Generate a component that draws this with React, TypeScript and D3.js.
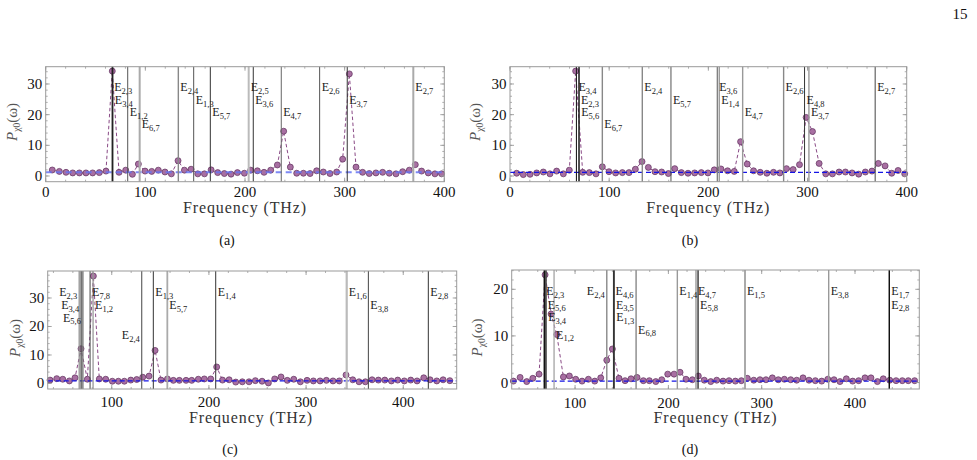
import React from "react";
import * as d3 from "d3";

// ---------- spectra: frequency (THz) and power per panel ----------
const freqA = [6.6, 13.7, 20.4, 27.1, 33.8, 40.4, 47.1, 53.8, 60.5, 66.8, 73.6, 80.3, 87.0, 93.0, 99.7, 106.4, 113.0, 119.7, 126.1, 132.8, 139.2, 145.9, 152.6, 159.3, 166.0, 172.6, 179.3, 186.0, 192.4, 199.4, 205.7, 212.4, 219.1, 225.8, 232.5, 238.8, 245.5, 251.9, 258.6, 265.3, 271.9, 278.6, 285.3, 292.0, 298.0, 304.7, 311.4, 318.0, 324.7, 331.4, 338.1, 344.8, 351.5, 358.2, 364.9, 370.9, 377.2, 383.9, 390.6, 397.3];
const powA = [1.96, 1.5, 1.2, 1.0, 1.0, 1.0, 1.0, 1.1, 1.6, 34.2, 1.2, 1.9, 0.55, 3.9, 1.6, 1.5, 1.9, 1.3, 0.7, 5.0, 1.9, 2.2, 0.7, 0.7, 2.0, 1.1, 0.8, 0.6, 1.1, 0.9, 1.9, 1.7, 1.2, 1.9, 3.6, 14.6, 2.9, 0.9, 0.9, 0.8, 1.7, 1.3, 0.8, 1.3, 5.5, 33.3, 2.9, 1.2, 0.8, 1.0, 1.2, 0.9, 0.7, 1.4, 1.9, 3.7, 1.6, 1.0, 0.7, 0.7];

const freqB = [6.7, 13.4, 20.2, 26.9, 33.6, 40.3, 47.0, 53.8, 59.8, 66.2, 73.3, 80.0, 86.7, 93.1, 99.8, 106.5, 113.3, 120.0, 126.4, 133.1, 139.5, 146.2, 152.9, 159.7, 166.1, 172.8, 179.5, 186.2, 192.9, 199.6, 206.0, 212.7, 219.4, 226.1, 232.5, 239.2, 245.6, 252.3, 259.0, 265.7, 272.1, 278.8, 285.5, 291.9, 298.6, 305.0, 311.7, 318.4, 325.1, 331.8, 338.2, 344.9, 351.6, 358.3, 365.0, 371.4, 378.2, 384.9, 391.3, 398.0];
const powB = [0.9, 0.45, 0.55, 1.0, 1.3, 0.7, 1.6, 0.7, 1.9, 34.2, 1.2, 1.1, 0.7, 3.0, 1.4, 1.0, 1.1, 1.1, 2.2, 4.7, 2.8, 1.4, 1.3, 0.8, 2.4, 1.1, 0.9, 1.0, 1.1, 1.0, 2.0, 2.3, 1.7, 1.5, 11.2, 3.9, 1.7, 1.2, 0.9, 1.2, 1.0, 2.4, 2.1, 3.7, 19.1, 14.5, 4.1, 0.7, 0.7, 1.3, 1.3, 1.0, 0.6, 1.3, 1.6, 4.1, 3.3, 0.9, 1.8, 0.7];

const freqC = [36.5, 43.4, 49.6, 56.4, 62.2, 68.4, 74.9, 81.1, 87.2, 93.8, 100.6, 106.8, 113.0, 119.6, 125.7, 131.9, 138.4, 144.6, 150.7, 157.3, 163.4, 169.6, 176.5, 182.3, 189.1, 195.3, 201.9, 208.0, 214.0, 220.8, 227.6, 234.4, 241.3, 247.8, 254.7, 261.2, 267.7, 274.2, 280.7, 287.3, 294.1, 301.0, 307.5, 314.4, 320.9, 327.7, 334.2, 341.1, 348.0, 354.5, 361.0, 367.9, 374.4, 381.0, 387.8, 394.3, 401.1, 407.7, 414.2, 421.1, 427.6, 434.5, 441.0, 447.9];
const powC = [1.2, 1.7, 1.5, 0.9, 2.0, 12.2, 1.5, 37.7, 1.6, 1.5, 0.8, 0.8, 0.8, 1.2, 1.4, 2.2, 2.6, 11.6, 1.2, 1.6, 1.1, 1.1, 1.1, 1.1, 1.5, 1.6, 1.6, 5.8, 1.2, 1.3, 0.5, 0.6, 0.6, 1.0, 0.8, 0.2, 1.6, 2.3, 1.1, 1.5, 0.6, 1.1, 0.9, 0.9, 1.1, 0.9, 0.9, 3.0, 1.3, 0.6, 0.6, 1.3, 1.2, 1.2, 0.9, 1.2, 0.9, 1.2, 0.9, 2.0, 1.3, 0.9, 1.3, 1.0];

const freqD = [33.9, 41.1, 48.2, 54.7, 61.4, 67.9, 74.3, 80.4, 87.5, 93.9, 100.7, 107.5, 114.3, 121.1, 127.5, 134.0, 140.0, 147.1, 153.6, 160.0, 166.4, 173.2, 179.6, 186.5, 192.9, 199.3, 206.1, 212.5, 218.9, 225.7, 232.1, 238.5, 245.4, 251.8, 258.6, 265.0, 271.8, 278.2, 284.6, 291.5, 298.2, 304.6, 311.4, 317.8, 324.3, 331.1, 337.5, 344.3, 350.7, 357.5, 364.3, 370.8, 377.5, 383.9, 390.7, 397.5, 403.9, 410.7, 417.1, 424.0, 430.3, 437.2, 444.0, 450.7, 457.1, 463.9];
const powD = [0.3, 1.1, 0.2, 0.9, 1.8, 23.1, 14.7, 10.3, 1.2, 1.4, 0.7, 0.3, 0.7, 0.3, 1.0, 4.8, 7.2, 0.9, 0.4, 0.8, 1.1, 0.4, 0.4, 0.2, 0.6, 1.8, 1.8, 2.2, 0.7, 0.6, 1.4, 0.5, 0.2, 0.5, 0.3, 0.4, 0.3, 0.4, 0.9, 0.5, 0.6, 0.6, 1.0, 0.6, 0.7, 0.6, 0.5, 1.0, 0.5, 0.4, 0.3, 0.7, 0.6, 0.2, 0.8, 0.3, 0.4, 1.0, 1.0, 0.2, 0.8, 0.5, 0.4, 0.4, 0.4, 0.4];

// mean power level (dashed blue reference) per panel
const meanLevels = [1.2, 1.2, 0.9, 0.3];

// ---------- transition frequencies E_{i,j} (THz) ----------
const transFreqA = [66.8, 67.4, 82.3, 94.3, 133.1, 148.5, 165.2, 203.7, 208.3, 236.4, 274.9, 302.6, 368.9];
const transNameA = ["2,3", "3,4", "1,2", "6,7", "2,4", "1,3", "5,7", "2,5", "3,6", "4,7", "2,6", "3,7", "2,7"];
const transFreqB = [67.0, 69.5, 69.8, 93.1, 133.4, 162.3, 209.0, 211.0, 234.6, 275.9, 297.0, 301.4, 368.2];
const transNameB = ["3,4", "2,3", "5,6", "6,7", "2,4", "5,7", "3,6", "1,4", "4,7", "2,6", "4,8", "3,7", "2,7"];
const transFreqC = [66.5, 68.5, 70.3, 77.7, 80.8, 130.9, 142.8, 157.2, 207.0, 341.8, 364.1, 425.8];
const transNameC = ["2,3", "3,4", "5,6", "7,8", "1,2", "2,4", "1,3", "5,7", "1,4", "1,6", "3,8", "2,8"];
const transFreqD = [67.1, 68.5, 69.0, 77.5, 134.0, 141.3, 141.6, 141.9, 165.4, 209.6, 229.6, 231.8, 282.1, 371.8, 436.8, 436.8];
const transNameD = ["2,3", "5,6", "3,4", "1,2", "2,4", "4,6", "3,5", "1,3", "6,8", "1,4", "4,7", "5,8", "1,5", "3,8", "1,7", "2,8"];

// ---------- tick labels ----------
const xTicksAB = [0, 100, 200, 300, 400];
const xTicksCD = [100, 200, 300, 400];
const yTicks30 = [0, 10, 20, 30];
const yTicks20 = [0, 10, 20];

// ---------- label placement and line styling ----------
// label rows, as a fraction of plot height measured from the bottom
const ROW_FRAC = [0.822, 0.71, 0.605, 0.5, 0.455];

const rowsA = [0, 1, 2, 3, 0, 1, 2, 0, 1, 2, 0, 1, 0];
const sideA = "RRRRRRRRRRRRR";
const shadeA = ["#111", "#222", "#555", "#aaa", "#888", "#555", "#333", "#bbb", "#333", "#666", "#555", "#333", "#aaa"];
const widthA = [1.3, 1.1, 1, 2, 1.4, 1, 1, 2, 1, 1, 1, 1, 2];
const rowsB = [0, 1, 2, 3, 0, 1, 0, 1, 2, 0, 1, 2, 0];
const sideB = "RRRRRRRRRRRRR";
const shadeB = ["#222", "#000", "#333", "#888", "#888", "#555", "#666", "#999", "#999", "#888", "#333", "#999", "#444"];
const widthB = [1.1, 1.1, 0.9, 1.4, 1.4, 1, 1.1, 1.4, 1.4, 1.4, 1, 1.4, 1];
const rowsC = [0, 1, 2, 0, 1, 4, 0, 1, 0, 0, 1, 0];
const sideC = "LLLRRLRRRRRR";
const shadeC = ["#888", "#555", "#777", "#444", "#999", "#444", "#333", "#aaa", "#333", "#bbb", "#444", "#333"];
const widthC = [1.2, 1.4, 1.4, 1, 1.3, 1, 1, 1.8, 1, 2.2, 1, 1];
const rowsD = [0, 1, 2, 4, 0, 0, 1, 2, 3, 0, 0, 1, 0, 0, 0, 1];
const sideD = "RRRRLRRRRRRRRRRR";
const shadeD = ["#111", "#555", "#444", "#aaa", "#888", "#111", "#333", "#444", "#888", "#999", "#999", "#111", "#aaa", "#999", "#111", "#111"];
const widthD = [1.6, 1.4, 1.1, 1.4, 1.4, 1.3, 1.2, 1.2, 1.4, 1.4, 1.4, 1.2, 2, 1.4, 1.2, 1.2];

const SERIF = "Liberation Serif, DejaVu Serif, serif";

type PanelCfg = {
  freq: number[]; pow: number[]; mean: number;
  tFreq: number[]; tName: string[]; rows: number[]; side: string; shade: string[]; width: number[];
  left: number; right: number; top: number; bottom: number;
  xDomain: [number, number]; yDomain: [number, number];
  xTicks: number[]; yTicks: number[]; tickLabelY: number;
  xTitle: [number, number]; yTitle: [number, number]; caption: [number, number];
  captionText: string; lightMean: boolean;
};

const panels: PanelCfg[] = [
  { freq: freqA, pow: powA, mean: meanLevels[0], tFreq: transFreqA, tName: transNameA, rows: rowsA, side: sideA, shade: shadeA, width: widthA,
    left: 45.7, right: 444.3, top: 66.7, bottom: 181.7, xDomain: [0, 400], yDomain: [-1.86, 35.64], xTicks: xTicksAB, yTicks: yTicks30,
    tickLabelY: 191.7, xTitle: [245, 208], yTitle: [12, 122], caption: [227, 240], captionText: "(a)", lightMean: true },
  { freq: freqB, pow: powB, mean: meanLevels[1], tFreq: transFreqB, tName: transNameB, rows: rowsB, side: sideB, shade: shadeB, width: widthB,
    left: 510, right: 906.7, top: 66.7, bottom: 181.7, xDomain: [0, 400], yDomain: [-1.86, 35.64], xTicks: xTicksAB, yTicks: yTicks30,
    tickLabelY: 191.7, xTitle: [708.3, 208], yTitle: [475, 122], caption: [690, 240], captionText: "(b)", lightMean: false },
  { freq: freqC, pow: powC, mean: meanLevels[2], tFreq: transFreqC, tName: transNameC, rows: rowsC, side: sideC, shade: shadeC, width: widthC,
    left: 47.7, right: 456.7, top: 271, bottom: 389, xDomain: [34.1, 455.0], yDomain: [-1.93, 39.47], xTicks: xTicksCD, yTicks: yTicks30,
    tickLabelY: 401.7, xTitle: [251, 417.5], yTitle: [15, 338], caption: [230, 449], captionText: "(c)", lightMean: false },
  { freq: freqD, pow: powD, mean: meanLevels[3], tFreq: transFreqD, tName: transNameD, rows: rowsD, side: sideD, shade: shadeD, width: widthD,
    left: 511.7, right: 919.3, top: 270, bottom: 389, xDomain: [32.1, 468.9], yDomain: [-1.39, 24.14], xTicks: xTicksCD, yTicks: yTicks20,
    tickLabelY: 402.5, xTitle: [715.5, 417.5], yTitle: [477, 337.5], caption: [690, 449], captionText: "(d)", lightMean: false },
];

const serifStyle = { fontFamily: SERIF };

function Panel({ p }: { p: PanelCfg }) {
  const x = d3.scaleLinear().domain(p.xDomain).range([p.left, p.right]);
  const y = d3.scaleLinear().domain(p.yDomain).range([p.bottom, p.top]);
  const h = p.bottom - p.top;
  const curve = d3.line<number>().x((_, i) => x(p.freq[i])).y((d) => y(d))(p.pow) as string;
  const xMinor = d3.range(0, 500, 20).filter((v) => v >= p.xDomain[0] && v <= p.xDomain[1]);
  const yMinor = d3.range(0, 40, 2).filter((v) => v >= p.yDomain[0] && v <= p.yDomain[1]);
  const frameColor = "#9a9a9a";

  return (
    <g>
      {/* dashed curve and spectrum points */}
      <path d={curve} fill="none" stroke="#8a4a86" strokeWidth={1} strokeDasharray="3.5,2.5" />
      {p.pow.map((v, i) => (
        <circle key={i} cx={x(p.freq[i])} cy={y(v)} r={3} fill="#a86fa2" stroke="#5e2f5b" strokeWidth={0.7} />
      ))}

      {/* mean level */}
      <line x1={p.left} x2={p.right} y1={y(p.mean)} y2={y(p.mean)}
        stroke={p.lightMean ? "#6674f2" : "#1414e6"} strokeOpacity={p.lightMean ? 0.85 : 1}
        strokeWidth={p.lightMean ? 2 : 1.2} strokeDasharray={p.lightMean ? "6,4" : "5,3"} />

      {/* transition lines and their labels */}
      {p.tFreq.map((f, i) => (
        <line key={"t" + i} x1={x(f)} x2={x(f)} y1={p.top} y2={p.bottom} stroke={p.shade[i]} strokeWidth={p.width[i]} />
      ))}
      {p.tFreq.map((f, i) => {
        const left = p.side[i] === "L";
        const cy = p.bottom - ROW_FRAC[p.rows[i]] * h;
        return (
          <text key={"l" + i} x={left ? x(f) - 2 : x(f) + 2} y={cy + 4} textAnchor={left ? "end" : "start"}
            style={serifStyle} fontSize={12} fill="#1a1a1a">
            E<tspan fontSize={8.5} dy={2.5}>{p.tName[i]}</tspan>
          </text>
        );
      })}

      {/* frame with inward ticks on all sides */}
      <rect x={p.left} y={p.top} width={p.right - p.left} height={h} fill="none" stroke={frameColor} strokeWidth={1} />
      {xMinor.map((v) => (
        <g key={"xm" + v} stroke={frameColor} strokeWidth={0.8}>
          <line x1={x(v)} x2={x(v)} y1={p.bottom} y2={p.bottom - 2} />
          <line x1={x(v)} x2={x(v)} y1={p.top} y2={p.top + 2} />
        </g>
      ))}
      {p.xTicks.map((v) => (
        <g key={"xM" + v} stroke={frameColor} strokeWidth={0.9}>
          <line x1={x(v)} x2={x(v)} y1={p.bottom} y2={p.bottom - 4} />
          <line x1={x(v)} x2={x(v)} y1={p.top} y2={p.top + 4} />
        </g>
      ))}
      {yMinor.map((v) => (
        <g key={"ym" + v} stroke={frameColor} strokeWidth={0.8}>
          <line x1={p.left} x2={p.left + 2} y1={y(v)} y2={y(v)} />
          <line x1={p.right} x2={p.right - 2} y1={y(v)} y2={y(v)} />
        </g>
      ))}
      {p.yTicks.map((v) => (
        <g key={"yM" + v} stroke={frameColor} strokeWidth={0.9}>
          <line x1={p.left} x2={p.left + 4} y1={y(v)} y2={y(v)} />
          <line x1={p.right} x2={p.right - 4} y1={y(v)} y2={y(v)} />
        </g>
      ))}

      {/* tick labels */}
      {p.xTicks.map((v) => (
        <text key={"xl" + v} x={x(v)} y={p.tickLabelY + 5} textAnchor="middle" style={serifStyle} fontSize={15} fill="#111">{v}</text>
      ))}
      {p.yTicks.map((v) => (
        <text key={"yl" + v} x={p.left - 3.5} y={y(v) + 5} textAnchor="end" style={serifStyle} fontSize={15} fill="#111">{v}</text>
      ))}

      {/* axis titles */}
      <text x={p.xTitle[0]} y={p.xTitle[1] + 5} textAnchor="middle" style={serifStyle} fontSize={16} letterSpacing={0.9} fill="#333">
        Frequency (THz)
      </text>
      <text transform={`translate(${p.yTitle[0] + 5},${p.yTitle[1]}) rotate(-90)`} textAnchor="middle" style={serifStyle} fontSize={15} fill="#555">
        <tspan fontStyle="italic">P</tspan>
        <tspan fontSize={9.5} dy={3}>χ0</tspan>
        <tspan dy={-3}>(ω)</tspan>
      </text>

      {/* sub-figure caption */}
      <text x={p.caption[0]} y={p.caption[1] + 5} textAnchor="middle" style={serifStyle} fontSize={14} fill="#111">{p.captionText}</text>
    </g>
  );
}

export default function App() {
  return (
    <svg width={977} height={460} viewBox="0 0 977 460" style={{ position: "absolute", left: 0, top: 0, background: "#fff" }}>
      <rect x={0} y={0} width={977} height={460} fill="#fff" />
      <text x={960} y={19} textAnchor="middle" style={serifStyle} fontSize={15} fill="#111">15</text>
      {panels.map((p, i) => (<Panel key={i} p={p} />))}
    </svg>
  );
}
